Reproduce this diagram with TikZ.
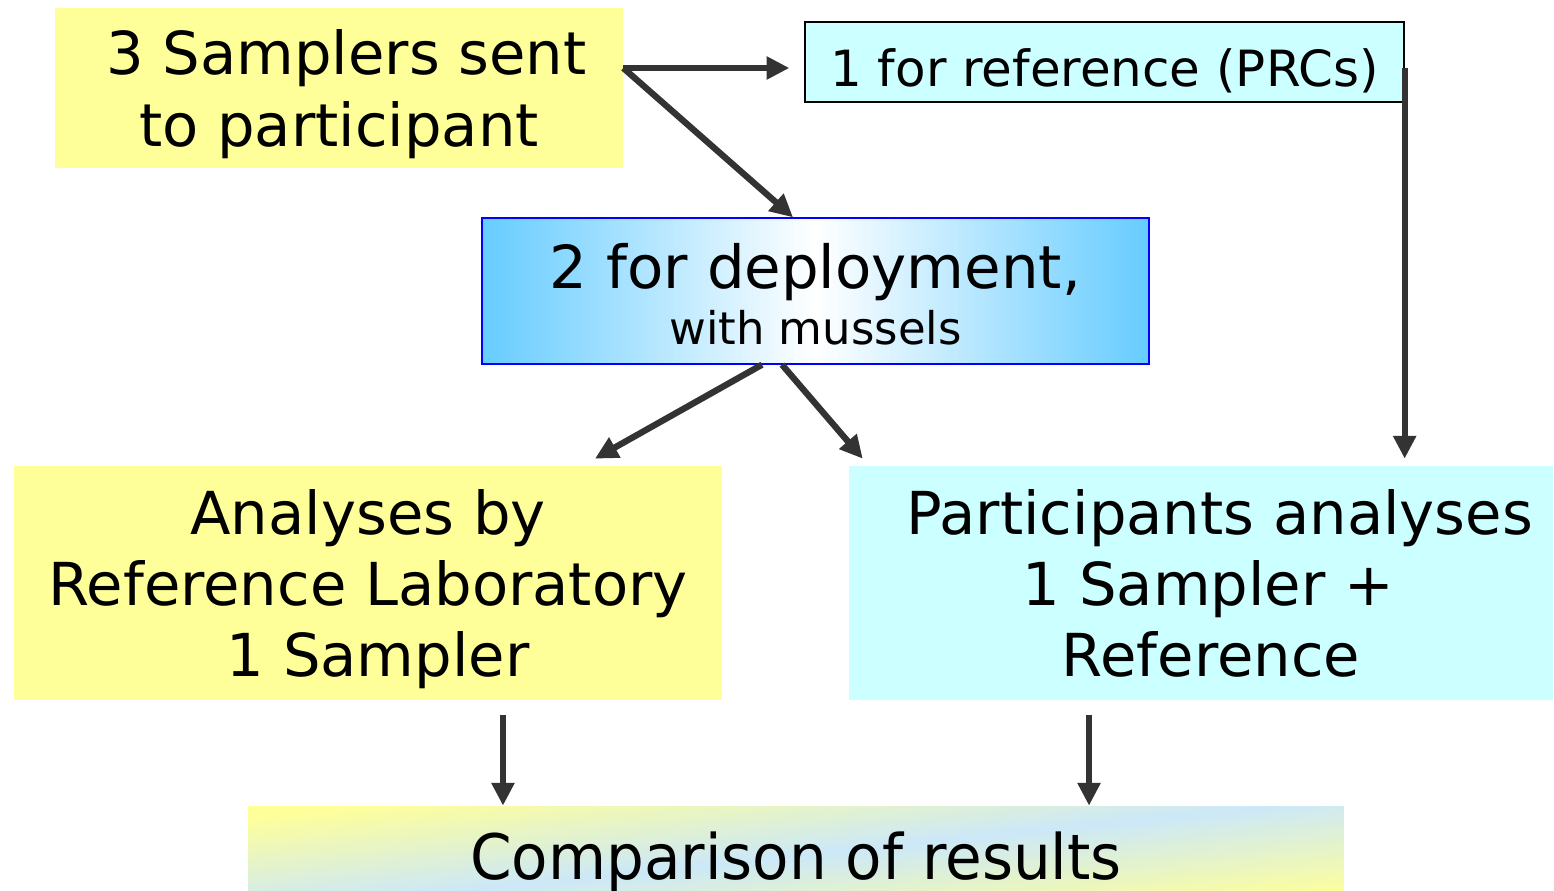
\documentclass[tikz,border=0pt]{standalone}
\usepackage{fontspec}
\setmainfont{DejaVu Sans}
\newfontfamily\narrowfont[FakeStretch=0.95]{DejaVu Sans}
\usetikzlibrary{arrows.meta,positioning}
\definecolor{paleyellow}{HTML}{FFFF99}
\definecolor{palecyan}{HTML}{CCFFFF}
\definecolor{skyblue}{HTML}{66CCFF}
\definecolor{mistblue}{HTML}{CCE8F8}
\definecolor{arrowgray}{HTML}{333333}
\tikzset{
  box/.style={rectangle,inner sep=0pt,align=center,text depth=0pt,
    font=\fontsize{33.7}{40.5}\selectfont},
  flow/.style={draw=arrowgray,line width=3.6pt,-{Triangle[length=13pt,width=12.5pt]}}
}
\begin{document}
\begin{tikzpicture}[x=0.02cm,y=-0.02cm]
\clip (0,0) rectangle (1554,891);
\node[box,fill=paleyellow,minimum width=11.36cm,minimum height=3.2cm] (sent) at (339,88)
  {\hspace*{0.3cm}3 Samplers sent\\to participant};
\node[box,draw=black,line width=0.8pt,fill=palecyan,minimum width=11.98cm,minimum height=1.6cm,
  text height=28pt,font=\fontsize{28.4}{34}\selectfont] (ref) at (1104.5,62) {1 for reference (PRCs)};
\node[box,draw=blue,line width=0.8pt,left color=skyblue,right color=skyblue,middle color=white,
  minimum width=13.34cm,minimum height=2.92cm,text height=61.2pt,font=\fontsize{33.8}{31.75}\selectfont] (deploy) at (815.5,291)
  {2 for deployment,\\{\fontsize{25.6}{31.75}\selectfont with mussels}};
\node[box,fill=paleyellow,minimum width=14.16cm,minimum height=4.68cm] (lab) at (368,583)
  {Analyses by\\Reference Laboratory\\\hspace*{0.4cm}1 Sampler};
\node[box,fill=palecyan,minimum width=14.08cm,minimum height=4.68cm] (part) at (1201,583)
  {\hspace*{0.75cm}Participants analyses\\\hspace*{0.3cm}1 Sampler +\\\hspace*{0.4cm}Reference};
\node[box,top color=paleyellow,bottom color=paleyellow,middle color=mistblue,shading angle=6,
  minimum width=21.92cm,minimum height=1.98cm,font=\narrowfont\fontsize{35.7}{40}\selectfont] (comp) at (796,855.5)
  {Comparison of results};

\coordinate (fork) at ([yshift=0.4cm]sent.east);
\coordinate (labout) at ([xshift=2.7cm,yshift=-0.3cm]lab.south);
\coordinate (partout) at ([xshift=-2.24cm,yshift=-0.3cm]part.south);
\draw[flow,shorten >=0.3cm] (fork) -- (fork -| ref.west);
\draw[flow] (fork) -- ([xshift=-0.45cm]deploy.north);
\draw[flow] ([xshift=-1.07cm]deploy.south) -- ([xshift=4.54cm,yshift=0.14cm]lab.north);
\draw[flow] ([xshift=-0.67cm]deploy.south) -- ([xshift=0.28cm,yshift=0.14cm]part.north west);
\draw[flow,shorten >=0.14cm] ([yshift=-0.12cm]ref.east) -- (ref.east |- part.north);
\draw[flow] (labout) -- (labout |- comp.north);
\draw[flow] (partout) -- (partout |- comp.north);
\end{tikzpicture}
\end{document}
